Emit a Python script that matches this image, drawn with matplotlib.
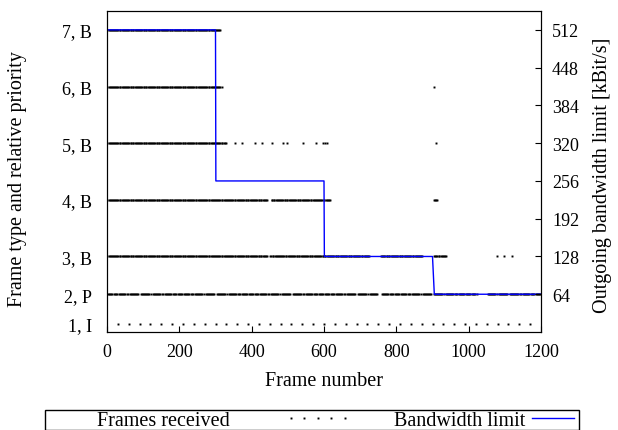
import matplotlib
matplotlib.use("Agg")
import matplotlib.pyplot as plt
import numpy as np
from matplotlib.lines import Line2D
from matplotlib.patches import Rectangle

plt.rcParams["font.family"] = ["Liberation Serif", "DejaVu Serif"]
plt.rcParams["font.size"] = 13
LABEL_SIZE = 14.5

# left axis: frame type / priority, placed on the kBit/s scale
level_labels = ["1, I", "2, P", "3, B", "4, B", "5, B", "6, B", "7, B"]
level_kbit = [14, 64, 128, 224, 320, 416, 512]

# frames received per level, as runs (first, last, step) plus lone frames
i_runs = [(30, 1170, 30)]
p_runs = [(3, 747, 3), (759, 1023, 3), (1053, 1197, 3)]
b3_runs = [(1, 444, 2), (452, 724, 2), (757, 874, 2), (905, 940, 2)]
b3_single = [1078, 1098, 1120]
b4_runs = [(1, 444, 2), (455, 618, 2), (903, 915, 2)]
b4_single = []
b5_runs = [(1, 330, 2)]
b5_single = [354, 372, 409, 428, 457, 486, 497, 541, 578, 596, 603, 608, 909]
b6_runs = [(1, 318, 2)]
b6_single = [905]
b7_runs = [(1, 316, 2)]
b7_single = []

# bandwidth limit step curve
bw_frame = [0, 300, 301, 600, 601, 900, 905, 1200]
bw_kbit = [512, 512, 256, 256, 128, 128, 64, 64]
bw_ticks = [64, 128, 192, 256, 320, 384, 448, 512]
x_ticks = [0, 200, 400, 600, 800, 1000, 1200]


def expand(runs):
    return np.concatenate([np.arange(a, b + 1, s) for a, b, s in runs])


def p_frames(runs):
    # P frames sit on multiples of 3, I frames on multiples of 30
    f = expand(runs)
    return f[f % 30 != 0]


def b_frames(runs, single):
    f = expand(runs)
    f = f[f % 3 != 0]
    return np.concatenate([f, np.array(single, dtype=int)])


rows = [
    (expand(i_runs), level_kbit[0]),
    (p_frames(p_runs), level_kbit[1]),
    (b_frames(b3_runs, b3_single), level_kbit[2]),
    (b_frames(b4_runs, b4_single), level_kbit[3]),
    (b_frames(b5_runs, b5_single), level_kbit[4]),
    (b_frames(b6_runs, b6_single), level_kbit[5]),
    (b_frames(b7_runs, b7_single), level_kbit[6]),
]

W, H = 618, 431
fig = plt.figure(figsize=(W / 100, H / 100), dpi=100)
L, R, T, B = 107, 541, 12, 333
ax = fig.add_axes([L / W, 1 - B / H, (R - L) / W, (B - T) / H])

for frames, y in rows:
    ax.plot(frames, np.full(len(frames), y), "s", color="black",
            ms=1.4, mew=0, zorder=2)
ax.plot(bw_frame, bw_kbit, "-", color="#0000ff", lw=1.0, zorder=3)

ax.set_xlim(0, 1200)
ax.set_ylim(0, 544)
ax.set_xticks(x_ticks)
ax.set_yticks(level_kbit, level_labels)
ax.tick_params(axis="x", direction="in", length=4, pad=8)
ax.tick_params(axis="y", direction="in", length=0, pad=11)
ax.set_xlabel("Frame number", fontsize=LABEL_SIZE)
ax.xaxis.set_label_coords(0.5, -0.121)
ax.set_ylabel("Frame type and relative priority", fontsize=LABEL_SIZE)
ax.yaxis.set_label_coords(-0.185, 0.48)

ax2 = ax.twinx()
ax2.set_ylim(0, 544)
ax2.set_yticks(bw_ticks)
ax2.tick_params(axis="y", direction="in", length=4, pad=8)
ax2.set_ylabel("Outgoing bandwidth limit [kBit/s]", fontsize=LABEL_SIZE)
ax2.yaxis.set_label_coords(1.12, 0.49)

# key box below the plot, gnuplot style (text first, sample after)
fig.add_artist(Rectangle((45 / W, 0.5 / H), 534 / W, 19.5 / H,
                         transform=fig.transFigure, fill=False,
                         edgecolor="black", lw=1))
dots = Line2D([], [], marker="s", ms=1.4, mew=0, color="black",
              linestyle="none")
bwline = Line2D([], [], color="#0000ff", lw=1.0)
fig.legend([dots], ["Frames received"], loc="center right",
           bbox_to_anchor=(351 / W, 1 - 421 / H), numpoints=5,
           handlelength=3.3, handletextpad=2.7, markerfirst=False,
           frameon=False, borderpad=0, borderaxespad=0,
           fontsize=LABEL_SIZE)
fig.legend([bwline], ["Bandwidth limit"], loc="center right",
           bbox_to_anchor=(574 / W, 1 - 421 / H), handlelength=2.1,
           handletextpad=0.3, markerfirst=False, frameon=False,
           borderpad=0, borderaxespad=0, fontsize=LABEL_SIZE)

fig.savefig("out.png", dpi=100)
